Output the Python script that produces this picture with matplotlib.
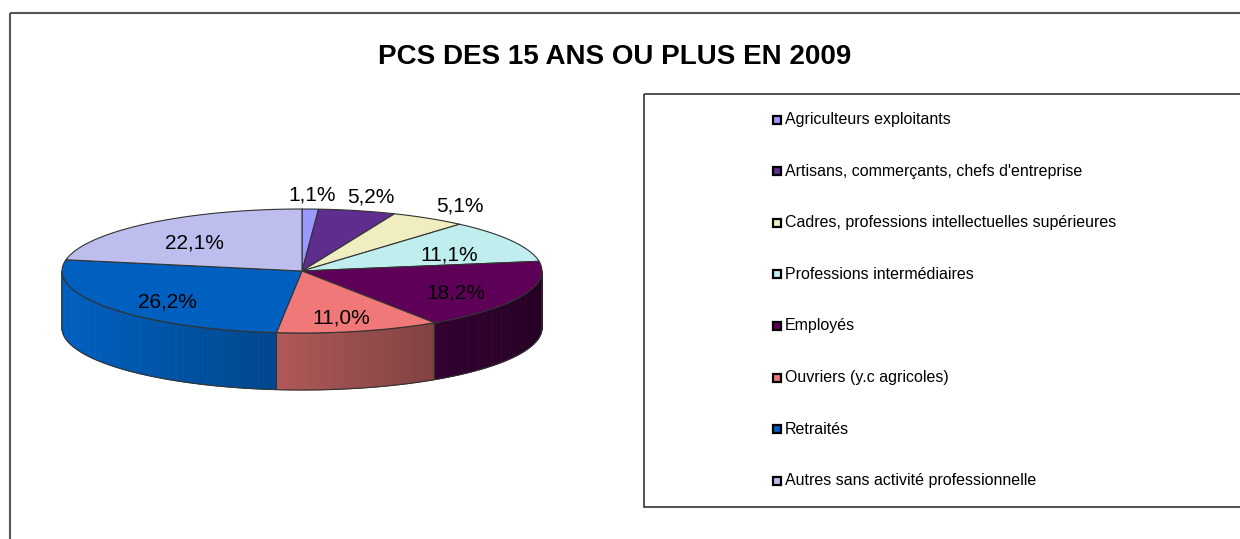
import numpy as np
import matplotlib.pyplot as plt
from matplotlib.patches import Polygon, Rectangle
from matplotlib import colors as mcolors

plt.rcParams['font.family'] = ['Liberation Sans', 'DejaVu Sans']

categories = ['Agriculteurs exploitants',
              "Artisans, commerçants, chefs d'entreprise",
              'Cadres, professions intellectuelles supérieures',
              'Professions intermédiaires',
              'Employés',
              'Ouvriers (y.c agricoles)',
              'Retraités',
              'Autres sans activité professionnelle']
values = [1.1, 5.2, 5.1, 11.1, 18.2, 11.0, 26.2, 22.1]
labels = ['1,1%', '5,2%', '5,1%', '11,1%', '18,2%', '11,0%', '26,2%', '22,1%']
cols = ['#9999FF', '#5E2D8E', '#F0EEC0', '#C0EEEE',
        '#5E0058', '#F07878', '#0060C0', '#BEBEEE']
title = 'PCS DES 15 ANS OU PLUS EN 2009'

# figure in pixel coordinates
fig = plt.figure(figsize=(12.4, 5.39), dpi=100)
ax = fig.add_axes([0, 0, 1, 1])
ax.set_xlim(0, 1240)
ax.set_ylim(539, 0)
ax.axis('off')

# outer frame
ax.add_patch(Rectangle((9.5, 13), 1300, 600, fill=False, ec='#555555', lw=1.5))

ax.text(615, 57, title, ha='center', va='center', fontsize=20, fontweight='bold')

# 3d pie geometry
cx, cy, a, b, depth = 302, 271, 240, 62, 57

def pt(t, dy=0):
    r = np.radians(t)
    return cx + a * np.cos(r), cy - b * np.sin(r) + dy

fracs = np.array(values) / sum(values)
cum = np.concatenate([[0], np.cumsum(fracs)])
starts = 90 - 360 * cum[:-1]
ends = 90 - 360 * cum[1:]

# side walls (front half, angles -180..0)
for s, e, c in zip(starts, ends, cols):
    lo, hi = max(e, -180), min(s, 0)
    if hi <= lo:
        continue
    ts = np.linspace(hi, lo, 80)
    base = np.array(mcolors.to_rgb(c))
    for t0, t1 in zip(ts[:-1], ts[1:]):
        x0, y0 = pt(t0)
        x1, y1 = pt(t1)
        u = ((x0 + x1) / 2 - (cx - a)) / (2 * a)
        f = 1.0 - 0.6 * u
        quad = [(x0, y0), (x1, y1), (x1, y1 + depth), (x0, y0 + depth)]
        ax.add_patch(Polygon(quad, closed=True, fc=base * f, ec=base * f, lw=0.6))
    top = [pt(t) for t in ts]
    bot = [pt(t, depth) for t in ts[::-1]]
    ax.add_patch(Polygon(top + bot, closed=True, fill=False, ec='#333333', lw=0.8))

# top faces
for s, e, c in zip(starts, ends, cols):
    ts = np.linspace(s, e, 100)
    poly = [(cx, cy)] + [pt(t) for t in ts]
    ax.add_patch(Polygon(poly, closed=True, fc=c, ec='#333333', lw=0.8))

# data labels
for s, e, lab, fr in zip(starts, ends, labels, fracs):
    m = np.radians((s + e) / 2)
    if fr < 0.06:
        r, dy = 1.25, 1
    else:
        r, dy = 0.7, 5
    x = cx + r * a * np.cos(m)
    y = cy - r * b * np.sin(m) + dy
    ax.text(x, y, lab, ha='center', va='center', fontsize=15)

# legend box
ax.add_patch(Rectangle((643.5, 93.5), 700, 413, fill=False, ec='#333333', lw=1.2))
for i, (cat, c) in enumerate(zip(categories, cols)):
    y = 119.5 + i * 51.6
    ax.add_patch(Rectangle((772.5, y - 4), 8, 8, fc=c, ec='black', lw=1.6))
    ax.text(785, y, cat, ha='left', va='center', fontsize=11.5)

fig.savefig('out.png', dpi=100)
